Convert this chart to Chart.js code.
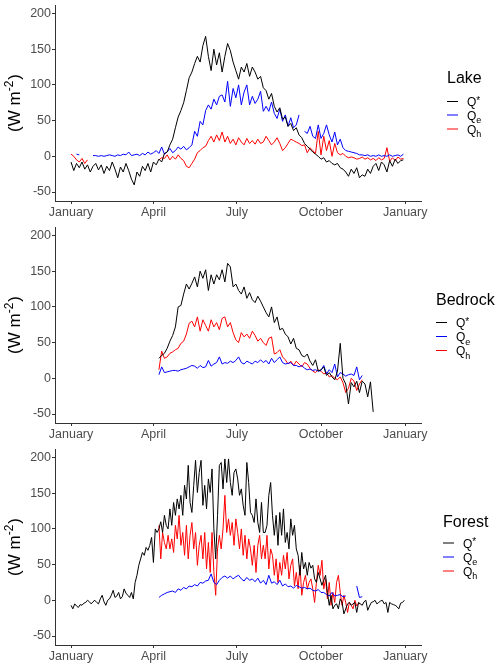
<!DOCTYPE html>
<html><head><meta charset="utf-8">
<script src="https://cdn.jsdelivr.net/npm/chart.js@4/dist/chart.umd.min.js"></script>
<style>
html,body{margin:0;padding:0;background:#fff;}
#wrap{position:relative;width:500px;height:666px;background:#fff;}
.panel{position:absolute;left:0;width:500px;height:222px;}
</style></head><body>
<div id="wrap">
<div class="panel" style="top:0"><canvas id="c0" width="500" height="222"></canvas></div>
<div class="panel" style="top:222px"><canvas id="c1" width="500" height="222"></canvas></div>
<div class="panel" style="top:444px"><canvas id="c2" width="500" height="222"></canvas></div>
</div>
<script>
// ---- axis labels ----
const monthTicks = [0, 90, 181, 273, 365];          // day of year
const monthLabels = ['January', 'April', 'July', 'October', 'January'];
const yTicks = [-50, 0, 50, 100, 150, 200];
const siteNames = ['Lake', 'Bedrock', 'Forest'];
// legend labels: [base, superscript, subscript]
const fluxLabels = [['Q', '*', ''], ['Q', '', 'e'], ['Q', '', 'h']];
const fluxColors = ['#000000', '#0000FF', '#FF0000'];

// ---- Lake (start day 0, every 3 days) ----
const lakeStart = 0, lakeStep = 3;
const lakeQstar = [-8,-20,-10,-16,-8,-18,-12,-22,-14,-10,-19,
 -12,-24,-14,-20,-8,-18,-30,-15,-22,
 -10,-20,-32,-40,-22,-28,-14,-20,-10,-22,
 -8,-12,-4,-8,4,6,16,24,40,55,
 64,75,92,110,118,130,140,132,155,168,
 140,120,150,128,145,118,140,158,148,132,
 120,108,125,118,130,112,125,118,108,112,
 96,92,80,88,70,62,68,52,55,42,
 46,36,40,30,26,18,14,10,6,3,
 0,-4,-2,-8,-6,-10,-12,-10,-16,-18,
 -22,-28,-18,-24,-16,-30,-26,-28,-18,-24,
 -14,-10,-20,-8,-12,-22,-6,-14,-4,-10,
 -6,-5];
const lakeQe = [3,null,3,2,null,null,null,null,1,1,0,
 1,0,1,2,1,0,2,1,3,
 2,6,1,2,3,1,4,2,6,3,
 5,8,4,13,3,6,11,5,8,13,
 10,14,9,12,16,35,28,49,44,64,
 72,66,80,72,84,86,76,105,70,95,
 82,100,72,90,100,72,84,74,80,91,
 63,70,63,76,60,53,66,49,58,42,
 54,40,44,58,null,35,32,42,28,25,
 44,25,32,44,30,20,34,16,24,12,
 8,7,6,5,4,2,2,1,2,0,
 1,0,2,0,1,0,2,0,1,2,
 0,3];
const lakeQh = [3,0,-5,-8,-3,-10,-5,null,null,null,null,
 null,null,null,null,null,null,null,null,null,
 null,null,null,null,null,null,null,null,null,null,
 null,null,-5,-2,-3,2,-5,0,-4,2,
 -3,-6,-14,-16,-10,-4,5,8,12,14,
 22,28,20,30,22,34,20,28,18,24,
 16,26,20,16,25,18,22,17,24,18,
 20,28,22,16,20,26,18,8,12,18,
 24,22,20,18,15,16,5,12,8,4,
 35,2,28,8,22,0,18,5,2,4,
 0,-2,-1,-2,-4,-3,-1,-4,-2,-5,
 -3,-6,-2,-5,-3,12,-7,-2,-6,-1,
 -4,-3];

// ---- Bedrock (start day 96, every 3 days) ----
const bedStart = 96, bedStep = 3;
const bedQstar = [28,32,35,42,52,60,72,100,102,118,
 132,125,133,142,128,150,140,152,123,145,
 132,145,138,152,135,161,156,128,132,123,
 118,128,112,120,110,106,115,108,100,92,
 86,100,78,86,68,70,62,58,48,56,
 42,40,32,30,34,24,18,26,10,12,
 16,4,8,2,-2,10,49,0,-8,-36,
 -6,-12,-4,-20,-4,-8,-26,-5,-47];
const bedQe = [5,16,8,9,10,11,11,10,12,13,
 14,16,18,17,14,18,15,16,25,17,
 20,22,30,20,22,21,24,22,25,30,
 22,20,24,22,20,24,22,26,22,25,
 20,28,22,26,30,22,20,21,22,18,
 18,16,18,14,12,13,11,12,10,11,
 18,6,12,8,20,2,8,6,3,5,
 6,4,16,-2,4];
const bedQh = [12,38,28,30,35,37,40,42,49,52,
 62,77,80,72,86,66,82,74,66,82,
 72,78,68,84,86,72,78,64,54,50,
 64,58,62,56,66,60,52,56,50,46,
 56,58,34,36,40,30,26,20,24,18,
 24,20,16,22,20,14,10,8,12,10,
 6,8,2,4,0,-2,2,-6,-20,-14,
 0,-4,-17,-8,-2];

// ---- Forest ----
const forQstarStart = 0, forQstarStep = 2;
const forQstar = [-7,-12,-5,-8,-10,-6,-7,-4,-3,0,
 -2,-5,-2,0,-3,-5,2,7,-2,-7,
 0,2,7,14,4,6,11,2,5,16,
 10,7,4,11,2,25,35,49,58,67,
 63,74,70,77,88,53,100,95,100,110,
 95,119,105,100,128,105,137,119,142,128,
 147,119,161,142,189,137,123,161,196,151,
 179,196,133,161,128,170,151,184,100,58,
 119,189,193,156,198,165,198,165,147,179,
 184,170,147,156,133,119,193,165,123,119,
 109,142,109,95,137,95,95,105,147,165,
 119,91,119,77,123,91,128,81,95,72,
 114,91,105,72,63,35,67,44,53,35,
 53,45,49,30,25,39,30,21,28,35,
 11,-7,7,-12,-7,-5,-12,2,-3,-19,
 -12,-5,-3,-7,-5,-3,-17,-3,-5,-7,
 -2,0,-14,-8,-3,-2,0,-5,-3,-1,
 0,-5,-3,-17,-3,-5,-6,-7,-9,-12,
 -4,-3,0];
const forQeStart = 96, forQeStep = 3;
const forQe = [4,7,9,11,12,13,11,16,14,18,
 16,20,19,22,20,25,24,27,28,37,
 25,22,28,32,34,31,34,30,33,35,
 30,27,32,28,30,26,31,24,28,22,
 35,24,26,22,28,20,23,19,20,17,
 21,19,17,18,16,17,14,13,15,11,
 11,8,6,11,6,7,8,5,6,null,
 null,null,20,4,5];
const forQhStart = 96, forQhStep = 2;
const forQh = [105,58,95,81,72,91,72,86,67,105,
 86,119,77,95,63,105,58,91,109,72,
 95,49,77,91,58,95,44,81,39,95,
 40,7,72,91,72,100,147,95,114,91,
 109,77,114,95,72,100,63,91,58,86,
 72,49,77,39,77,91,58,77,58,91,
 44,72,63,35,58,25,53,35,63,44,
 67,30,49,58,20,39,16,49,7,25,
 35,16,25,30,16,-3,25,49,35,56,
 16,30,2,25,-7,11,-3,25,35,11,
 -7,7,-3,-17,-3,-7,-12,0,-8,-4,
 -5];

function pts(start, step, vals) {
  return vals.map((v, i) => ({x: start + i * step, y: v}));
}

const FONT = '"Liberation Sans", Arial, Helvetica, sans-serif';
Chart.defaults.font.family = FONT;

const decor = {
  id: 'decor',
  afterDraw(chart, args, o) {
    const ctx = chart.ctx;
    const ca = chart.chartArea;
    // y-axis title "(W m-2)"
    ctx.save();
    ctx.fillStyle = '#000';
    ctx.textBaseline = 'alphabetic';
    ctx.translate(20, (ca.top + ca.bottom) / 2);
    ctx.rotate(-Math.PI / 2);
    const big = '17px ' + FONT, small = '12px ' + FONT;
    ctx.font = big;
    const t1 = '(W m', t3 = ')';
    const w1 = ctx.measureText(t1).width, w3 = ctx.measureText(t3).width;
    ctx.font = small;
    const w2 = ctx.measureText('-2').width;
    let x = -(w1 + w2 + 1 + w3) / 2;
    ctx.font = big; ctx.fillText(t1, x, 0); x += w1;
    ctx.font = small; ctx.fillText('-2', x, -7); x += w2 + 1;
    ctx.font = big; ctx.fillText(t3, x, 0);
    ctx.restore();
    // legend
    ctx.save();
    ctx.fillStyle = '#000';
    ctx.textBaseline = 'alphabetic';
    ctx.font = '16px ' + FONT;
    ctx.fillText(o.title, o.lx, 83);
    fluxLabels.forEach((lab, i) => {
      const y = o.ly[i];
      ctx.strokeStyle = fluxColors[i];
      ctx.lineWidth = 1;
      ctx.beginPath();
      ctx.moveTo(o.lx, y); ctx.lineTo(o.lx + 11, y);
      ctx.stroke();
      let tx = o.lx + 20;
      ctx.font = '12px ' + FONT;
      ctx.fillText(lab[0], tx, y + 4.5);
      tx += ctx.measureText(lab[0]).width;
      if (lab[1]) { ctx.font = '10px ' + FONT; ctx.fillText(lab[1], tx, y + 2); }
      if (lab[2]) { ctx.font = '9px ' + FONT; ctx.fillText(lab[2], tx, y + 8); }
    });
    ctx.restore();
  }
};

function makeChart(id, series, legendOpts) {
  return new Chart(document.getElementById(id), {
    type: 'line',
    data: {
      datasets: series.map((d, i) => ({
        label: fluxLabels[i].join(''),
        data: d,
        borderColor: fluxColors[i],
        backgroundColor: fluxColors[i],
        borderWidth: 1,
        pointRadius: 0,
        tension: 0,
        spanGaps: false,
        fill: false,
        borderJoinStyle: 'round'
      }))
    },
    options: {
      responsive: false,
      animation: false,
      devicePixelRatio: 1,
      layout: {padding: {left: 0, right: 79, top: 5, bottom: 0}},
      plugins: {legend: {display: false}, tooltip: {enabled: false}, decor: legendOpts},
      scales: {
        x: {
          type: 'linear', min: -17.5, max: 382.2,
          afterBuildTicks(s) { s.ticks = monthTicks.map(v => ({value: v})); },
          afterFit(s) { s.height = 21; s.paddingLeft = 0; s.paddingRight = 0; },
          ticks: {
            callback: (v) => monthLabels[monthTicks.indexOf(v)],
            color: '#4D4D4D', font: {size: 12.5}, padding: 1,
            maxRotation: 0, autoSkip: false
          },
          grid: {drawOnChartArea: false, drawTicks: true, tickLength: 3, color: '#333333'},
          border: {display: true, color: '#333333', width: 1}
        },
        y: {
          min: -62.6, max: 211.9,
          afterBuildTicks(s) { s.ticks = yTicks.map(v => ({value: v})); },
          afterFit(s) { s.width = 55; s.paddingTop = 0; s.paddingBottom = 0; },
          ticks: {
            callback: (v) => String(v),
            color: '#4D4D4D', font: {size: 12.5}, padding: 1, autoSkip: false
          },
          grid: {drawOnChartArea: false, drawTicks: true, tickLength: 3, color: '#333333'},
          border: {display: true, color: '#333333', width: 1}
        }
      }
    },
    plugins: [decor]
  });
}

makeChart('c0', [
  pts(lakeStart, lakeStep, lakeQstar),
  pts(lakeStart, lakeStep, lakeQe),
  pts(lakeStart, lakeStep, lakeQh)
], {title: siteNames[0], lx: 447, ly: [101.5, 115, 129]});

makeChart('c1', [
  pts(bedStart, bedStep, bedQstar),
  pts(bedStart, bedStep, bedQe),
  pts(bedStart, bedStep, bedQh)
], {title: siteNames[1], lx: 436, ly: [100.5, 114.5, 128.5]});

makeChart('c2', [
  pts(forQstarStart, forQstarStep, forQstar),
  pts(forQeStart, forQeStep, forQe),
  pts(forQhStart, forQhStep, forQh)
], {title: siteNames[2], lx: 443, ly: [99, 113, 127]});
</script>
</body></html>
